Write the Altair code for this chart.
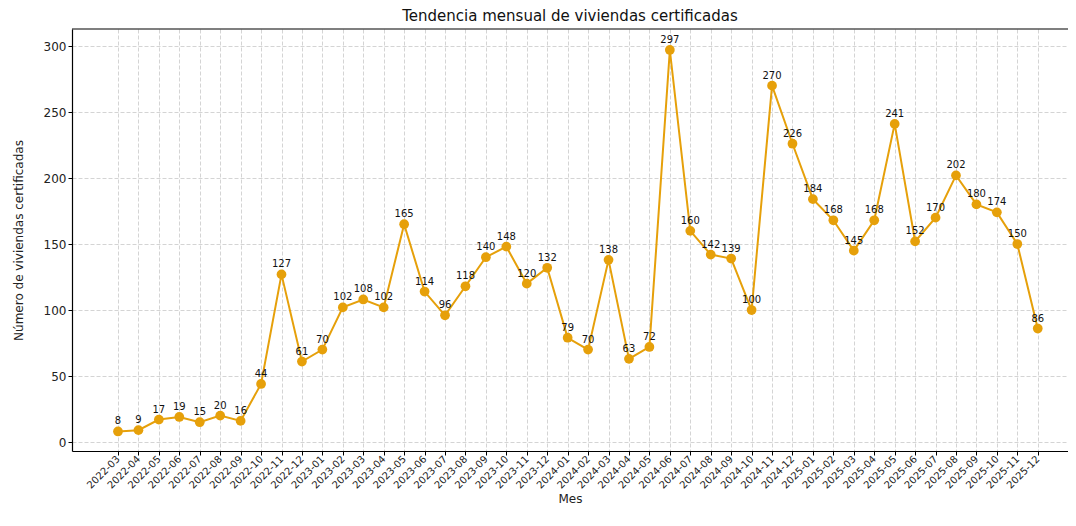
import json
import altair as alt
import pandas as pd

months = ["2022-03", "2022-04", "2022-05", "2022-06", "2022-07", "2022-08", "2022-09",
          "2022-10", "2022-11", "2022-12", "2023-01", "2023-02", "2023-03", "2023-04",
          "2023-05", "2023-06", "2023-07", "2023-08", "2023-09", "2023-10", "2023-11",
          "2023-12", "2024-01", "2024-02", "2024-03", "2024-04", "2024-05", "2024-06",
          "2024-07", "2024-08", "2024-09", "2024-10", "2024-11", "2024-12", "2025-01",
          "2025-02", "2025-03", "2025-04", "2025-05", "2025-06", "2025-07", "2025-08",
          "2025-09", "2025-10", "2025-11", "2025-12"]
values = [8, 9, 17, 19, 15, 20, 16, 44, 127, 61, 70, 102, 108, 102, 165, 114, 96, 118,
          140, 148, 120, 132, 79, 70, 138, 63, 72, 297, 160, 142, 139, 100, 270, 226,
          184, 168, 145, 168, 241, 152, 170, 202, 180, 174, 150, 86]

df = pd.DataFrame({"idx": list(range(len(months))), "mes": months, "valor": values})

COLOR = "#E6A00A"
FONT = "DejaVu Sans"
W = 996
H = 422

x_enc = alt.X("idx:Q",
              scale=alt.Scale(domain=[-2.25, 46.48], nice=False, zero=False),
              axis=alt.Axis(title="Mes", values=list(range(len(months))),
                            labelExpr=json.dumps(months) + "[datum.value]",
                            labelAngle=315, labelAlign="right", labelBaseline="middle",
                            labelPadding=2, labelFontSize=10, titleFontSize=12,
                            titleFontWeight="normal", titlePadding=3,
                            grid=True, gridDash=[4, 2], gridColor="#d4d4d4",
                            tickColor="black", tickSize=4, domainColor="black",
                            domainWidth=1.2,
                            labelColor="#222222", titleColor="#222222",
                            labelOverlap=False))
y_enc = alt.Y("valor:Q",
              scale=alt.Scale(domain=[-6.8, 312.9], nice=False, zero=False),
              axis=alt.Axis(title="Número de viviendas certificadas",
                            values=[0, 50, 100, 150, 200, 250, 300],
                            labelFontSize=12, titleFontSize=12, titleFontWeight="normal",
                            titlePadding=18, grid=True, gridDash=[4, 2],
                            gridColor="#d4d4d4", tickColor="black", tickSize=4,
                            domainColor="black", domainWidth=1.2,
                            labelColor="#222222", titleColor="#222222"))

base = alt.Chart(df).encode(x=x_enc, y=y_enc)

line = base.mark_line(color=COLOR, strokeWidth=2)
points = base.mark_circle(color=COLOR, size=95, opacity=1)
labels = base.mark_text(dy=-5, baseline="bottom", fontSize=10, color="#111111",
                        font=FONT).encode(text="valor:Q")
top_border = alt.Chart(pd.DataFrame({"k": [0]})).mark_rule(
    color="black", strokeWidth=1.2).encode(
    x=alt.value(0), x2=alt.value(W), y=alt.value(0))

chart = (line + points + labels + top_border).properties(
    width=W, height=H,
    title=alt.TitleParams("Tendencia mensual de viviendas certificadas",
                          fontSize=15, fontWeight="normal", font=FONT,
                          color="#111111", offset=4),
    autosize=alt.AutoSizeParams(type="none"),
    padding={"left": 64, "top": 21, "right": 0, "bottom": 62},
).configure(font=FONT).configure_view(stroke=None).configure_axis(
    labelFont=FONT, titleFont=FONT)

chart.save("out.html", embed_options={"renderer": "svg", "actions": False})
